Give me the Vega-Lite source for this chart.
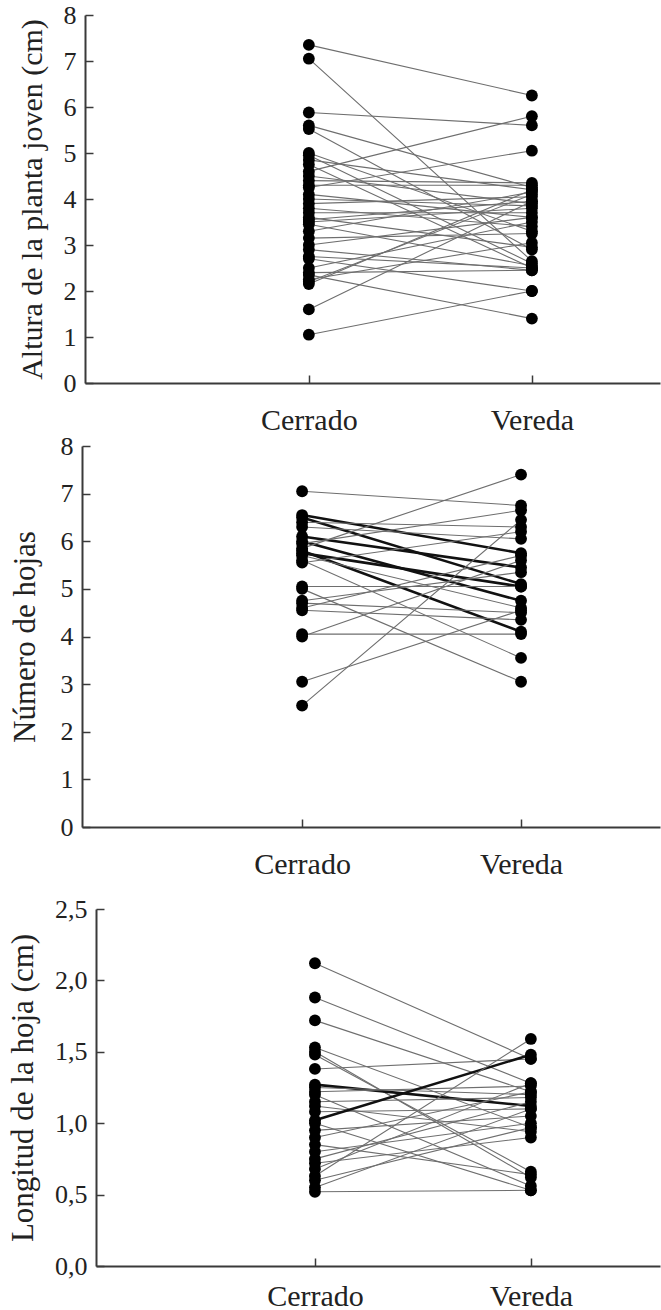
{
  "$schema": "https://vega.github.io/schema/vega-lite/v6.json",
  "background": "white",
  "padding": {"left": 6, "top": 2, "right": 0, "bottom": 0},
  "datasets": {
    "altura": [
      {"id":1,"sitio":"Cerrado","valor":7.35,"destacado":"no"},{"id":1,"sitio":"Vereda","valor":6.25,"destacado":"no"},
      {"id":2,"sitio":"Cerrado","valor":7.05,"destacado":"no"},{"id":2,"sitio":"Vereda","valor":2.65,"destacado":"no"},
      {"id":3,"sitio":"Cerrado","valor":5.88,"destacado":"no"},{"id":3,"sitio":"Vereda","valor":5.6,"destacado":"no"},
      {"id":4,"sitio":"Cerrado","valor":5.6,"destacado":"no"},{"id":4,"sitio":"Vereda","valor":4.25,"destacado":"no"},
      {"id":5,"sitio":"Cerrado","valor":5.52,"destacado":"no"},{"id":5,"sitio":"Vereda","valor":2.9,"destacado":"no"},
      {"id":6,"sitio":"Cerrado","valor":5.0,"destacado":"no"},{"id":6,"sitio":"Vereda","valor":3.3,"destacado":"no"},
      {"id":7,"sitio":"Cerrado","valor":4.95,"destacado":"no"},{"id":7,"sitio":"Vereda","valor":2.6,"destacado":"no"},
      {"id":8,"sitio":"Cerrado","valor":4.85,"destacado":"no"},{"id":8,"sitio":"Vereda","valor":4.2,"destacado":"no"},
      {"id":9,"sitio":"Cerrado","valor":4.75,"destacado":"no"},{"id":9,"sitio":"Vereda","valor":2.5,"destacado":"no"},
      {"id":10,"sitio":"Cerrado","valor":4.6,"destacado":"no"},{"id":10,"sitio":"Vereda","valor":5.8,"destacado":"no"},
      {"id":11,"sitio":"Cerrado","valor":4.5,"destacado":"no"},{"id":11,"sitio":"Vereda","valor":3.9,"destacado":"no"},
      {"id":12,"sitio":"Cerrado","valor":4.4,"destacado":"no"},{"id":12,"sitio":"Vereda","valor":4.35,"destacado":"no"},
      {"id":13,"sitio":"Cerrado","valor":4.3,"destacado":"no"},{"id":13,"sitio":"Vereda","valor":4.3,"destacado":"no"},
      {"id":14,"sitio":"Cerrado","valor":4.25,"destacado":"no"},{"id":14,"sitio":"Vereda","valor":5.05,"destacado":"no"},
      {"id":15,"sitio":"Cerrado","valor":4.1,"destacado":"no"},{"id":15,"sitio":"Vereda","valor":3.6,"destacado":"no"},
      {"id":16,"sitio":"Cerrado","valor":4.0,"destacado":"no"},{"id":16,"sitio":"Vereda","valor":3.85,"destacado":"no"},
      {"id":17,"sitio":"Cerrado","valor":3.9,"destacado":"no"},{"id":17,"sitio":"Vereda","valor":4.05,"destacado":"no"},
      {"id":18,"sitio":"Cerrado","valor":3.8,"destacado":"no"},{"id":18,"sitio":"Vereda","valor":3.4,"destacado":"no"},
      {"id":19,"sitio":"Cerrado","valor":3.7,"destacado":"no"},{"id":19,"sitio":"Vereda","valor":3.7,"destacado":"no"},
      {"id":20,"sitio":"Cerrado","valor":3.6,"destacado":"no"},{"id":20,"sitio":"Vereda","valor":2.95,"destacado":"no"},
      {"id":21,"sitio":"Cerrado","valor":3.55,"destacado":"no"},{"id":21,"sitio":"Vereda","valor":3.95,"destacado":"no"},
      {"id":22,"sitio":"Cerrado","valor":3.5,"destacado":"no"},{"id":22,"sitio":"Vereda","valor":3.8,"destacado":"no"},
      {"id":23,"sitio":"Cerrado","valor":3.45,"destacado":"no"},{"id":23,"sitio":"Vereda","valor":2.55,"destacado":"no"},
      {"id":24,"sitio":"Cerrado","valor":3.3,"destacado":"no"},{"id":24,"sitio":"Vereda","valor":4.15,"destacado":"no"},
      {"id":25,"sitio":"Cerrado","valor":3.15,"destacado":"no"},{"id":25,"sitio":"Vereda","valor":3.25,"destacado":"no"},
      {"id":26,"sitio":"Cerrado","valor":3.0,"destacado":"no"},{"id":26,"sitio":"Vereda","valor":3.6,"destacado":"no"},
      {"id":27,"sitio":"Cerrado","valor":2.9,"destacado":"no"},{"id":27,"sitio":"Vereda","valor":2.45,"destacado":"no"},
      {"id":28,"sitio":"Cerrado","valor":2.75,"destacado":"no"},{"id":28,"sitio":"Vereda","valor":2.5,"destacado":"no"},
      {"id":29,"sitio":"Cerrado","valor":2.7,"destacado":"no"},{"id":29,"sitio":"Vereda","valor":2.0,"destacado":"no"},
      {"id":30,"sitio":"Cerrado","valor":2.5,"destacado":"no"},{"id":30,"sitio":"Vereda","valor":3.5,"destacado":"no"},
      {"id":31,"sitio":"Cerrado","valor":2.4,"destacado":"no"},{"id":31,"sitio":"Vereda","valor":2.45,"destacado":"no"},
      {"id":32,"sitio":"Cerrado","valor":2.35,"destacado":"no"},{"id":32,"sitio":"Vereda","valor":1.4,"destacado":"no"},
      {"id":33,"sitio":"Cerrado","valor":2.25,"destacado":"no"},{"id":33,"sitio":"Vereda","valor":3.05,"destacado":"no"},
      {"id":34,"sitio":"Cerrado","valor":2.2,"destacado":"no"},{"id":34,"sitio":"Vereda","valor":4.1,"destacado":"no"},
      {"id":35,"sitio":"Cerrado","valor":2.15,"destacado":"no"},{"id":35,"sitio":"Vereda","valor":4.2,"destacado":"no"},
      {"id":36,"sitio":"Cerrado","valor":1.6,"destacado":"no"},{"id":36,"sitio":"Vereda","valor":3.95,"destacado":"no"},
      {"id":37,"sitio":"Cerrado","valor":1.05,"destacado":"no"},{"id":37,"sitio":"Vereda","valor":2.0,"destacado":"no"}
    ],
    "hojas": [
      {"id":1,"sitio":"Cerrado","valor":7.05,"destacado":"no"},{"id":1,"sitio":"Vereda","valor":6.75,"destacado":"no"},
      {"id":2,"sitio":"Cerrado","valor":6.55,"destacado":"sí"},{"id":2,"sitio":"Vereda","valor":5.75,"destacado":"sí"},
      {"id":3,"sitio":"Cerrado","valor":6.5,"destacado":"sí"},{"id":3,"sitio":"Vereda","valor":5.1,"destacado":"sí"},
      {"id":4,"sitio":"Cerrado","valor":6.4,"destacado":"no"},{"id":4,"sitio":"Vereda","valor":6.3,"destacado":"no"},
      {"id":5,"sitio":"Cerrado","valor":6.3,"destacado":"no"},{"id":5,"sitio":"Vereda","valor":6.05,"destacado":"no"},
      {"id":6,"sitio":"Cerrado","valor":6.1,"destacado":"sí"},{"id":6,"sitio":"Vereda","valor":5.45,"destacado":"sí"},
      {"id":7,"sitio":"Cerrado","valor":6.0,"destacado":"sí"},{"id":7,"sitio":"Vereda","valor":4.75,"destacado":"sí"},
      {"id":8,"sitio":"Cerrado","valor":5.95,"destacado":"no"},{"id":8,"sitio":"Vereda","valor":6.65,"destacado":"no"},
      {"id":9,"sitio":"Cerrado","valor":5.85,"destacado":"no"},{"id":9,"sitio":"Vereda","valor":7.4,"destacado":"no"},
      {"id":10,"sitio":"Cerrado","valor":5.8,"destacado":"sí"},{"id":10,"sitio":"Vereda","valor":4.1,"destacado":"sí"},
      {"id":11,"sitio":"Cerrado","valor":5.75,"destacado":"sí"},{"id":11,"sitio":"Vereda","valor":5.05,"destacado":"sí"},
      {"id":12,"sitio":"Cerrado","valor":5.7,"destacado":"no"},{"id":12,"sitio":"Vereda","valor":4.6,"destacado":"no"},
      {"id":13,"sitio":"Cerrado","valor":5.6,"destacado":"no"},{"id":13,"sitio":"Vereda","valor":3.55,"destacado":"no"},
      {"id":14,"sitio":"Cerrado","valor":5.55,"destacado":"no"},{"id":14,"sitio":"Vereda","valor":6.2,"destacado":"no"},
      {"id":15,"sitio":"Cerrado","valor":5.05,"destacado":"no"},{"id":15,"sitio":"Vereda","valor":5.05,"destacado":"no"},
      {"id":16,"sitio":"Cerrado","valor":5.0,"destacado":"no"},{"id":16,"sitio":"Vereda","valor":3.05,"destacado":"no"},
      {"id":17,"sitio":"Cerrado","valor":4.75,"destacado":"no"},{"id":17,"sitio":"Vereda","valor":5.35,"destacado":"no"},
      {"id":18,"sitio":"Cerrado","valor":4.7,"destacado":"no"},{"id":18,"sitio":"Vereda","valor":4.5,"destacado":"no"},
      {"id":19,"sitio":"Cerrado","valor":4.6,"destacado":"no"},{"id":19,"sitio":"Vereda","valor":5.7,"destacado":"no"},
      {"id":20,"sitio":"Cerrado","valor":4.55,"destacado":"no"},{"id":20,"sitio":"Vereda","valor":4.35,"destacado":"no"},
      {"id":21,"sitio":"Cerrado","valor":4.05,"destacado":"no"},{"id":21,"sitio":"Vereda","valor":4.05,"destacado":"no"},
      {"id":22,"sitio":"Cerrado","valor":4.0,"destacado":"no"},{"id":22,"sitio":"Vereda","valor":5.6,"destacado":"no"},
      {"id":23,"sitio":"Cerrado","valor":3.05,"destacado":"no"},{"id":23,"sitio":"Vereda","valor":4.55,"destacado":"no"},
      {"id":24,"sitio":"Cerrado","valor":2.55,"destacado":"no"},{"id":24,"sitio":"Vereda","valor":6.45,"destacado":"no"}
    ],
    "longitud": [
      {"id":1,"sitio":"Cerrado","valor":2.12,"destacado":"no"},{"id":1,"sitio":"Vereda","valor":1.45,"destacado":"no"},
      {"id":2,"sitio":"Cerrado","valor":1.88,"destacado":"no"},{"id":2,"sitio":"Vereda","valor":1.28,"destacado":"no"},
      {"id":3,"sitio":"Cerrado","valor":1.72,"destacado":"no"},{"id":3,"sitio":"Vereda","valor":1.22,"destacado":"no"},
      {"id":4,"sitio":"Cerrado","valor":1.53,"destacado":"no"},{"id":4,"sitio":"Vereda","valor":0.97,"destacado":"no"},
      {"id":5,"sitio":"Cerrado","valor":1.5,"destacado":"no"},{"id":5,"sitio":"Vereda","valor":0.62,"destacado":"no"},
      {"id":6,"sitio":"Cerrado","valor":1.48,"destacado":"no"},{"id":6,"sitio":"Vereda","valor":0.66,"destacado":"no"},
      {"id":7,"sitio":"Cerrado","valor":1.38,"destacado":"no"},{"id":7,"sitio":"Vereda","valor":1.45,"destacado":"no"},
      {"id":8,"sitio":"Cerrado","valor":1.27,"destacado":"sí"},{"id":8,"sitio":"Vereda","valor":1.12,"destacado":"sí"},
      {"id":9,"sitio":"Cerrado","valor":1.25,"destacado":"no"},{"id":9,"sitio":"Vereda","valor":1.2,"destacado":"no"},
      {"id":10,"sitio":"Cerrado","valor":1.22,"destacado":"no"},{"id":10,"sitio":"Vereda","valor":1.26,"destacado":"no"},
      {"id":11,"sitio":"Cerrado","valor":1.2,"destacado":"no"},{"id":11,"sitio":"Vereda","valor":0.56,"destacado":"no"},
      {"id":12,"sitio":"Cerrado","valor":1.15,"destacado":"no"},{"id":12,"sitio":"Vereda","valor":1.18,"destacado":"no"},
      {"id":13,"sitio":"Cerrado","valor":1.12,"destacado":"no"},{"id":13,"sitio":"Vereda","valor":0.94,"destacado":"no"},
      {"id":14,"sitio":"Cerrado","valor":1.08,"destacado":"no"},{"id":14,"sitio":"Vereda","valor":1.1,"destacado":"no"},
      {"id":15,"sitio":"Cerrado","valor":1.02,"destacado":"sí"},{"id":15,"sitio":"Vereda","valor":1.48,"destacado":"sí"},
      {"id":16,"sitio":"Cerrado","valor":1.0,"destacado":"no"},{"id":16,"sitio":"Vereda","valor":0.53,"destacado":"no"},
      {"id":17,"sitio":"Cerrado","valor":0.95,"destacado":"no"},{"id":17,"sitio":"Vereda","valor":1.05,"destacado":"no"},
      {"id":18,"sitio":"Cerrado","valor":0.9,"destacado":"no"},{"id":18,"sitio":"Vereda","valor":1.22,"destacado":"no"},
      {"id":19,"sitio":"Cerrado","valor":0.85,"destacado":"no"},{"id":19,"sitio":"Vereda","valor":0.64,"destacado":"no"},
      {"id":20,"sitio":"Cerrado","valor":0.8,"destacado":"no"},{"id":20,"sitio":"Vereda","valor":1.0,"destacado":"no"},
      {"id":21,"sitio":"Cerrado","valor":0.75,"destacado":"no"},{"id":21,"sitio":"Vereda","valor":1.15,"destacado":"no"},
      {"id":22,"sitio":"Cerrado","valor":0.72,"destacado":"no"},{"id":22,"sitio":"Vereda","valor":0.9,"destacado":"no"},
      {"id":23,"sitio":"Cerrado","valor":0.68,"destacado":"no"},{"id":23,"sitio":"Vereda","valor":1.28,"destacado":"no"},
      {"id":24,"sitio":"Cerrado","valor":0.63,"destacado":"no"},{"id":24,"sitio":"Vereda","valor":1.59,"destacado":"no"},
      {"id":25,"sitio":"Cerrado","valor":0.6,"destacado":"no"},{"id":25,"sitio":"Vereda","valor":0.97,"destacado":"no"},
      {"id":26,"sitio":"Cerrado","valor":0.55,"destacado":"no"},{"id":26,"sitio":"Vereda","valor":1.1,"destacado":"no"},
      {"id":27,"sitio":"Cerrado","valor":0.52,"destacado":"no"},{"id":27,"sitio":"Vereda","valor":0.53,"destacado":"no"}
    ]
  },
  "concat": [
    {
      "concat": [
        {
          "width": 564, "height": 368,
          "data": {"name": "altura"},
          "encoding": {
            "x": {"field": "sitio", "type": "nominal", "scale": {"type": "point", "domain": ["Cerrado", "Vereda"], "range": [-11, 564], "padding": 0.789, "align": 0.636},
                  "axis": {"title": null, "labelAngle": 0, "tickSize": -8, "labelPadding": 30, "labelFontSize": 30, "labelBaseline": "top"}},
            "y": {"field": "valor", "type": "quantitative", "scale": {"domain": [0, 8], "nice": false},
                  "axis": {"title": "Altura de la planta joven (cm)", "offset": 11, "values": [0,1,2,3,4,5,6,7,8], "tickSize": -8, "labelPadding": 17, "labelFontSize": 26, "titleFontSize": 30, "titleX": -68, "titleBaseline": "top"}}
          },
          "layer": [
            {"mark": {"type": "line", "strokeCap": "round"},
             "encoding": {"detail": {"field": "id"},
                          "color": {"field": "destacado", "type": "nominal", "scale": {"domain": ["no", "sí"], "range": ["#6e6e6e", "#111111"]}, "legend": null},
                          "strokeWidth": {"field": "destacado", "type": "nominal", "scale": {"domain": ["no", "sí"], "range": [1.1, 2.6]}, "legend": null}}},
            {"mark": {"type": "circle", "size": 140, "color": "#000000", "opacity": 1}}
          ]
        },
        {
          "width": 564, "height": 381,
          "data": {"name": "hojas"},
          "encoding": {
            "x": {"field": "sitio", "type": "nominal", "scale": {"type": "point", "domain": ["Cerrado", "Vereda"], "range": [-14, 564], "padding": 0.82, "align": 0.613},
                  "axis": {"title": null, "labelAngle": 0, "tickSize": -8, "labelPadding": 30, "labelFontSize": 30, "labelBaseline": "top"}},
            "y": {"field": "valor", "type": "quantitative", "scale": {"domain": [0, 8], "nice": false},
                  "axis": {"title": "Número de hojas", "offset": 14, "values": [0,1,2,3,4,5,6,7,8], "tickSize": -8, "labelPadding": 17, "labelFontSize": 26, "titleFontSize": 31, "titleX": -72, "titleBaseline": "top"}}
          },
          "layer": [
            {"mark": {"type": "line", "strokeCap": "round"},
             "encoding": {"detail": {"field": "id"},
                          "color": {"field": "destacado", "type": "nominal", "scale": {"domain": ["no", "sí"], "range": ["#6e6e6e", "#111111"]}, "legend": null},
                          "strokeWidth": {"field": "destacado", "type": "nominal", "scale": {"domain": ["no", "sí"], "range": [1.1, 2.6]}, "legend": null}}},
            {"mark": {"type": "circle", "size": 140, "color": "#000000", "opacity": 1}}
          ]
        }
      ],
      "columns": 1, "align": "none", "spacing": -2
    },
    {
      "width": 564, "height": 357,
      "data": {"name": "longitud"},
      "encoding": {
        "x": {"field": "sitio", "type": "nominal", "scale": {"type": "point", "domain": ["Cerrado", "Vereda"], "range": [0, 564], "padding": 0.806, "align": 0.629},
              "axis": {"title": null, "labelAngle": 0, "tickSize": -8, "labelPadding": 23, "labelFontSize": 30, "labelBaseline": "top"}},
        "y": {"field": "valor", "type": "quantitative", "scale": {"domain": [0, 2.5], "nice": false},
              "axis": {"title": "Longitud de la hoja (cm)", "values": [0, 0.5, 1, 1.5, 2, 2.5], "labelExpr": "replace(format(datum.value, '.1f'), '.', ',')", "tickSize": -8, "labelPadding": 17, "labelFontSize": 26, "titleFontSize": 31, "titleX": -88, "titleBaseline": "top"}}
      },
      "layer": [
        {"mark": {"type": "line", "strokeCap": "round"},
         "encoding": {"detail": {"field": "id"},
                      "color": {"field": "destacado", "type": "nominal", "scale": {"domain": ["no", "sí"], "range": ["#6e6e6e", "#111111"]}, "legend": null},
                      "strokeWidth": {"field": "destacado", "type": "nominal", "scale": {"domain": ["no", "sí"], "range": [1.1, 2.6]}, "legend": null}}},
        {"mark": {"type": "circle", "size": 140, "color": "#000000", "opacity": 1}}
      ]
    }
  ],
  "columns": 1, "align": "none", "spacing": 17,
  "config": {
    "font": "Liberation Serif",
    "view": {"stroke": null},
    "axis": {"grid": false, "domainColor": "#3a3a3a", "domainWidth": 2, "tickColor": "#3a3a3a", "tickWidth": 1.5,
             "labelFont": "Liberation Serif", "labelColor": "#222222", "titleFont": "Liberation Serif", "titleFontWeight": "normal", "titleColor": "#222222"}
  }
}
